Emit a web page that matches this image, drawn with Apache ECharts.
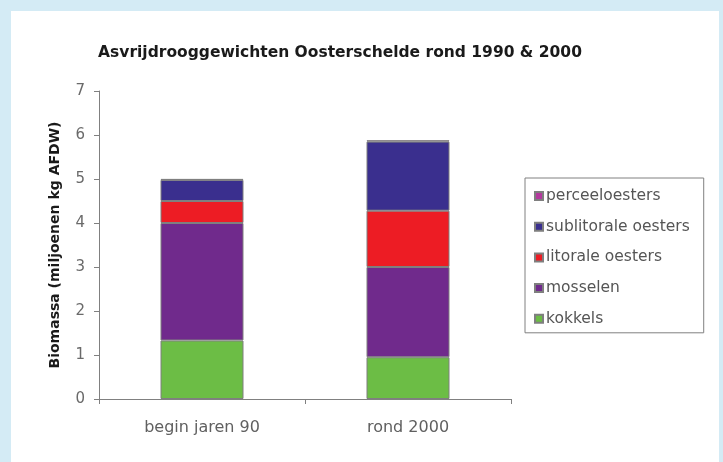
<!DOCTYPE html>
<html>
<head>
<meta charset="utf-8">
<script src="https://cdn.jsdelivr.net/npm/echarts@6/dist/echarts.min.js"></script>
<style>
html,body{margin:0;padding:0;background:#d4ebf5;}
#c{width:723px;height:462px;}
</style>
</head>
<body>
<div id="c"></div>
<script>
const categories = ['begin jaren 90', 'rond 2000'];
const kokkels = [1.33, 0.95];
const mosselen = [2.67, 2.05];
const litoraleOesters = [0.50, 1.28];
const sublitoraleOesters = [0.48, 1.57];
const perceelOesters = [0.02, 0.03];
const yTicks = [0, 1, 2, 3, 4, 5, 6, 7];

const chart = echarts.init(document.getElementById('c'), null, {renderer: 'canvas'});
const border = {borderColor: '#7f7f7f', borderWidth: 1};
function s(name, data, color) {
  return {name, type: 'bar', stack: 'tot', data, barWidth: 83,
    itemStyle: Object.assign({color}, border), emphasis: {disabled: true}};
}
chart.setOption({
  animation: false,
  backgroundColor: '#d4ebf5',
  graphic: [{type: 'rect', left: 11, top: 11, shape: {width: 708, height: 451}, style: {fill: '#ffffff'}, z: -10}],
  title: {
    text: 'Asvrijdrooggewichten Oosterschelde rond 1990 & 2000',
    left: 335, top: 40, textAlign: 'center',
    textStyle: {fontFamily: 'DejaVu Sans', fontWeight: 'bold', fontSize: 15.5, color: '#1a1a1a'}
  },
  legend: {
    orient: 'vertical', left: 525, top: 178,
    data: ['perceeloesters', 'sublitorale oesters', 'litorale oesters', 'mosselen', 'kokkels'],
    itemWidth: 8, itemHeight: 8, itemGap: 14.7, icon: 'rect',
    borderColor: '#808080', borderWidth: 1, padding: [10, 14, 6, 9],
    textStyle: {fontFamily: 'DejaVu Sans', fontSize: 15.5, color: '#555555', padding: [0, 0, 0, -2]},
    selectedMode: false
  },
  grid: {left: 99, right: 212, top: 91, bottom: 63, containLabel: false},
  xAxis: {
    type: 'category', data: categories,
    axisLine: {lineStyle: {color: '#808080'}},
    axisTick: {show: true, length: 5, lineStyle: {color: '#808080'}},
    axisLabel: {fontFamily: 'DejaVu Sans', fontSize: 16, color: '#606060', margin: 21}
  },
  yAxis: {
    type: 'value', min: yTicks[0], max: yTicks[yTicks.length - 1], interval: 1,
    name: 'Biomassa (miljoenen kg AFDW)', nameLocation: 'middle', nameGap: 37,
    nameTextStyle: {fontFamily: 'DejaVu Sans', fontWeight: 'bold', fontSize: 14, color: '#1a1a1a'},
    axisLine: {show: true, lineStyle: {color: '#808080'}},
    axisTick: {show: true, length: 5, lineStyle: {color: '#808080'}},
    splitLine: {show: false},
    axisLabel: {fontFamily: 'DejaVu Sans', fontSize: 15, color: '#6a6a6a', margin: 14}
  },
  series: [
    s('kokkels', kokkels, '#6cbd45'),
    s('mosselen', mosselen, '#702a8c'),
    s('litorale oesters', litoraleOesters, '#ed1c24'),
    s('sublitorale oesters', sublitoraleOesters, '#3a2f8e'),
    s('perceeloesters', perceelOesters, '#b4399e')
  ]
});
</script>
</body>
</html>
